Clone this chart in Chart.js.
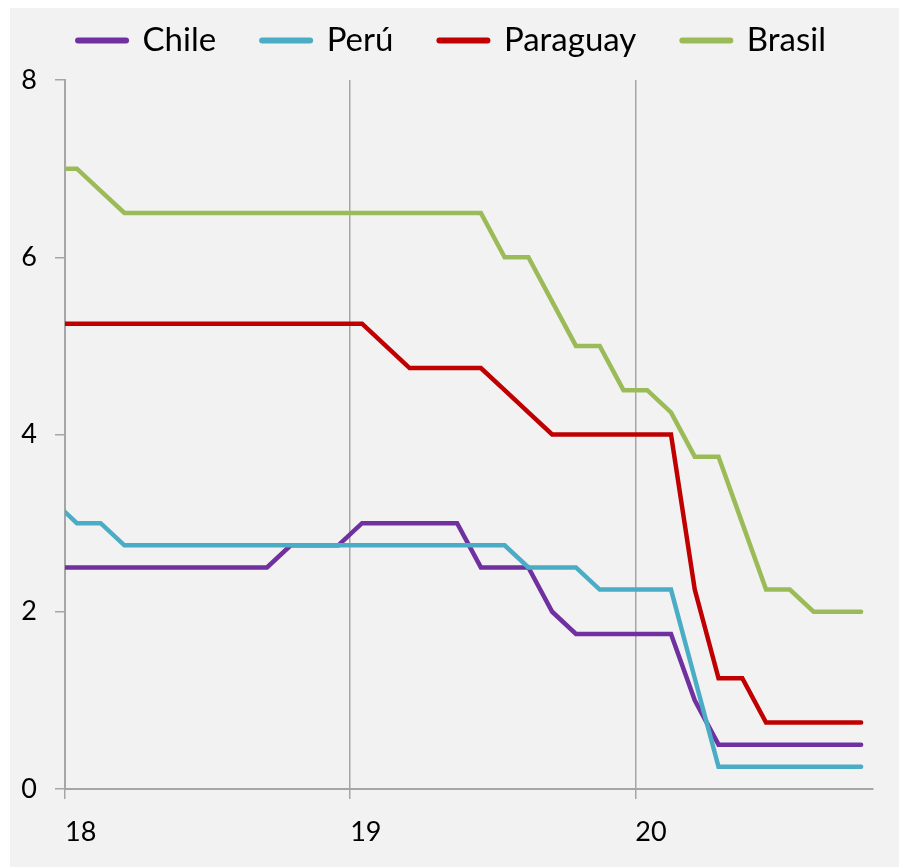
<!DOCTYPE html>
<html>
<head>
<meta charset="utf-8">
<script src="https://cdn.jsdelivr.net/npm/chart.js@4/dist/chart.umd.min.js"></script>
<style>
  html, body { margin: 0; padding: 0; background: #ffffff; }
  #panel { position: absolute; left: 10px; top: 8px; width: 889px; height: 859px; background: #f2f2f2; }
</style>
</head>
<body>
<div id="panel"><canvas id="rateChart" width="889" height="859"></canvas></div>
<script>
// monthly points, Dec 2017 .. Oct 2020, x = year (2-digit) at mid-month
const months = [
  '2017-12',
  '2018-01','2018-02','2018-03','2018-04','2018-05','2018-06','2018-07','2018-08','2018-09','2018-10','2018-11','2018-12',
  '2019-01','2019-02','2019-03','2019-04','2019-05','2019-06','2019-07','2019-08','2019-09','2019-10','2019-11','2019-12',
  '2020-01','2020-02','2020-03','2020-04','2020-05','2020-06','2020-07','2020-08','2020-09','2020-10'
];

const chile = [
  2.5,
  2.5, 2.5, 2.5, 2.5, 2.5, 2.5, 2.5, 2.5, 2.5, 2.75, 2.75, 2.75,
  3.0, 3.0, 3.0, 3.0, 3.0, 2.5, 2.5, 2.5, 2.0, 1.75, 1.75, 1.75,
  1.75, 1.75, 1.0, 0.5, 0.5, 0.5, 0.5, 0.5, 0.5, 0.5
];
const peru = [
  3.25,
  3.0, 3.0, 2.75, 2.75, 2.75, 2.75, 2.75, 2.75, 2.75, 2.75, 2.75, 2.75,
  2.75, 2.75, 2.75, 2.75, 2.75, 2.75, 2.75, 2.5, 2.5, 2.5, 2.25, 2.25,
  2.25, 2.25, 1.25, 0.25, 0.25, 0.25, 0.25, 0.25, 0.25, 0.25
];
const paraguay = [
  5.25,
  5.25, 5.25, 5.25, 5.25, 5.25, 5.25, 5.25, 5.25, 5.25, 5.25, 5.25, 5.25,
  5.25, 5.0, 4.75, 4.75, 4.75, 4.75, 4.5, 4.25, 4.0, 4.0, 4.0, 4.0,
  4.0, 4.0, 2.25, 1.25, 1.25, 0.75, 0.75, 0.75, 0.75, 0.75
];
const brasil = [
  7.0,
  7.0, 6.75, 6.5, 6.5, 6.5, 6.5, 6.5, 6.5, 6.5, 6.5, 6.5, 6.5,
  6.5, 6.5, 6.5, 6.5, 6.5, 6.5, 6.0, 6.0, 5.5, 5.0, 5.0, 4.5,
  4.5, 4.25, 3.75, 3.75, 3.0, 2.25, 2.25, 2.0, 2.0, 2.0
];

const yearTicks = [18, 19, 20];

function toX(m) {
  const [y, mo] = m.split('-').map(Number);
  return (y - 2000) + (mo - 0.5) / 12;
}

function points(values) {
  return values.map((v, i) => ({ x: toX(months[i]), y: v }));
}

const gridGray = '#a6a6a6';
const fontFamily = 'Lato, "Open Sans", sans-serif';

function series(label, values, color, order) {
  return {
    label: label,
    data: points(values),
    borderColor: color,
    backgroundColor: color,
    borderWidth: 4.5,
    borderCapStyle: 'round',
    pointRadius: 0,
    pointStyle: 'line',
    tension: 0,
    clip: 0,
    order: order
  };
}

// legend row sits high, plot starts a bit lower: stretch the legend box,
// and nudge it right so it is centred like the original
const legendPatch = {
  id: 'legendPatch',
  afterInit(chart) {
    const legend = chart.legend;
    const fit = legend.fit;
    const draw = legend.draw;
    legend.fit = function () {
      fit.call(this);
      this.height += 13;
    };
    legend.draw = function () {
      this.ctx.save();
      this.ctx.translate(10.5, 0);
      draw.call(this);
      this.ctx.restore();
    };
  }
};

const ctx = document.getElementById('rateChart').getContext('2d');

new Chart(ctx, {
  type: 'line',
  data: {
    datasets: [
      series('Chile', chile, '#7030a0', 4),
      series('Perú', peru, '#4bacc6', 3),
      series('Paraguay', paraguay, '#c00000', 2),
      series('Brasil', brasil, '#9bbb59', 1)
    ]
  },
  plugins: [legendPatch],
  options: {
    responsive: false,
    animation: false,
    layout: { padding: { top: -30, right: 26, left: 0, bottom: 0 } },
    plugins: {
      tooltip: { enabled: false },
      legend: {
        position: 'top',
        labels: {
          usePointStyle: true,
          pointStyleWidth: 48,
          padding: 46,
          color: '#000000',
          font: { family: fontFamily, size: 33 },
          sort: (a, b) => a.datasetIndex - b.datasetIndex,
          generateLabels: (chart) => {
            const items = Chart.defaults.plugins.legend.labels.generateLabels(chart);
            return items.map(it => Object.assign(it, { lineWidth: 6, lineCap: 'round' }));
          }
        }
      }
    },
    scales: {
      x: {
        type: 'linear',
        min: 18,
        max: 20 + 10 / 12,
        afterFit: (scale) => { scale.height = 78; },
        afterBuildTicks: (scale) => { scale.ticks = yearTicks.map(v => ({ value: v })); },
        ticks: {
          align: 'start',
          padding: 17,
          color: '#000000',
          font: { family: fontFamily, size: 27 },
          callback: (v) => String(v)
        },
        grid: {
          color: gridGray,
          lineWidth: 1.5,
          tickLength: 10,
          drawOnChartArea: true
        },
        border: { color: gridGray, width: 2 }
      },
      y: {
        min: 0,
        max: 8,
        afterFit: (scale) => { scale.width = 55; },
        ticks: {
          stepSize: 2,
          padding: 18,
          color: '#000000',
          font: { family: fontFamily, size: 27 }
        },
        grid: {
          color: gridGray,
          lineWidth: 1.5,
          tickLength: 10,
          drawOnChartArea: false
        },
        border: { color: gridGray, width: 2 }
      }
    }
  }
});
</script>
</body>
</html>
